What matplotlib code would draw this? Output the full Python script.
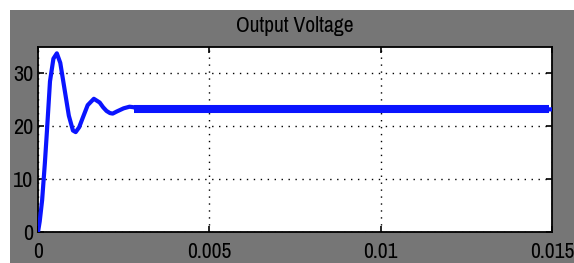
import matplotlib
matplotlib.use("Agg")
import matplotlib.pyplot as plt
from matplotlib import font_manager

# Data
time = [0, 0.00005, 0.00012, 0.0002, 0.00026, 0.00035, 0.00045, 0.00055,
        0.00065, 0.00075, 0.0009, 0.00102, 0.0011, 0.0012, 0.0013, 0.00145,
        0.00163, 0.0018, 0.0019, 0.002, 0.0021, 0.00218, 0.0023, 0.0025,
        0.00267, 0.0028, 0.0029, 0.015]
voltage = [0, 2, 6, 13, 19, 28.5, 32.8, 33.8,
           32.0, 28.0, 22.0, 19.2, 18.9, 19.8, 21.5, 24.0,
           25.2, 24.5, 23.6, 22.9, 22.5, 22.4, 22.8, 23.4,
           23.7, 23.6, 23.2, 23.2]
steady_time = [0.0028, 0.0149]
steady_value = [23.2, 23.2]

x_ticks = [0, 0.005, 0.01, 0.015]
x_labels = ["0", "0.005", "0.01", "0.015"]
y_ticks = [0, 10, 20, 30]
y_labels = ["0", "10", "20", "30"]

names = sorted({f.name for f in font_manager.fontManager.ttflist})
narrow = [n for n in names if "Narrow" in n or "Condensed" in n]
font = (narrow[:1] if narrow else []) + ['DejaVu Sans']
stretch = "condensed"

W, H = 574, 263
fig = plt.figure(figsize=(W / 100, H / 100), dpi=100, facecolor="white")
gray = "#767676"
bg = fig.add_axes([10 / W, 0, 1 - 10 / W, (H - 10) / H], zorder=-5)
bg.set_facecolor(gray)
bg.set_xticks([]); bg.set_yticks([])
for s in bg.spines.values():
    s.set_visible(False)

ax = fig.add_axes([38 / W, (H - 232) / H, (552 - 38) / W, (232 - 47) / H], zorder=1)
ax.set_facecolor("white")
ax.plot(time, voltage, color="#0a14ff", lw=3.0, solid_joinstyle="round",
        solid_capstyle="round", zorder=3)
ax.plot(steady_time, steady_value, color="#0a14ff", lw=5.8,
        solid_capstyle="butt", zorder=3)
ax.set_xlim(0, 0.015)
ax.set_ylim(0, 35)
ax.set_xticks(x_ticks)
ax.set_xticklabels(x_labels, family=font, fontsize=15.5, fontstretch=stretch,
                   fontweight="medium")
ax.set_yticks(y_ticks)
ax.set_yticklabels(y_labels, family=font, fontsize=16, fontstretch=stretch,
                   fontweight="medium")
ax.tick_params(axis="x", pad=7.5)
ax.tick_params(axis="y", pad=3.5)
ax.tick_params(direction="in", length=4, width=1.2, color="black",
               top=True, right=True)
ax.grid(True, color="black", linestyle=(0, (1, 4)), linewidth=1.0)
for s in ax.spines.values():
    s.set_linewidth(1.3)
    s.set_color("black")

fig.text((38 + 552) / 2 / W, (H - 26) / H, "Output Voltage", family=font,
         fontsize=15.5, fontstretch=stretch, ha="center", va="center", color="black")

fig.savefig("out.png", dpi=100, facecolor="white")
